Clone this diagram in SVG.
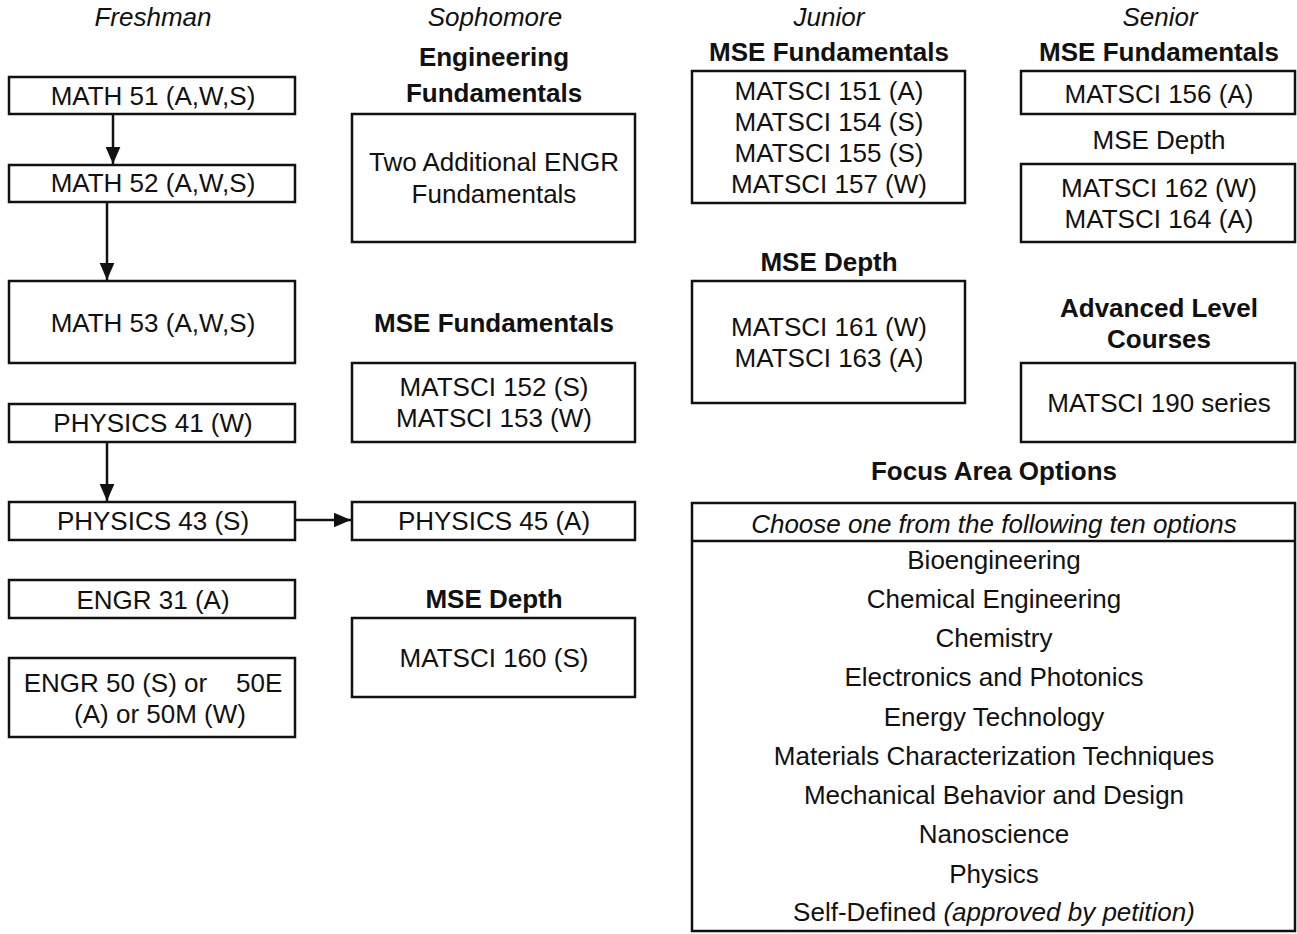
<svg xmlns="http://www.w3.org/2000/svg" width="1297" height="934" viewBox="0 0 1297 934">
<style>
text{font-family:"Liberation Sans",Arial,Helvetica,sans-serif;font-size:26px;fill:#111;text-anchor:middle}
.it{font-style:italic}
.b{font-weight:bold}
rect{fill:#fff;stroke:#111;stroke-width:2.5}
.c{stroke:#111;stroke-width:2.5;fill:none}
</style>
<defs>
<marker id="ah" viewBox="0 0 15 13" refX="15" refY="6.5" markerWidth="7" markerHeight="6.07" markerUnits="strokeWidth" orient="auto">
<path d="M0,0 L15,6.5 L0,13 Z" fill="#111"/>
</marker>
</defs>
<rect x="0" y="0" width="1297" height="934" style="fill:#fff;stroke:none"/>
<g id="headers">
<text class="it" x="153" y="26">Freshman</text>
<text class="it" x="495" y="26">Sophomore</text>
<text class="it" x="829" y="26">Junior</text>
<text class="it" x="1160" y="26">Senior</text>
<text class="b" x="494" y="66">Engineering</text>
<text class="b" x="494" y="102">Fundamentals</text>
<text class="b" x="494" y="332">MSE Fundamentals</text>
<text class="b" x="494" y="608">MSE Depth</text>
<text class="b" x="829" y="61">MSE Fundamentals</text>
<text class="b" x="829" y="271">MSE Depth</text>
<text class="b" x="1159" y="61">MSE Fundamentals</text>
<text x="1159" y="149">MSE Depth</text>
<text class="b" x="1159" y="317">Advanced Level</text>
<text class="b" x="1159" y="348">Courses</text>
<text class="b" x="994" y="480">Focus Area Options</text>
</g>
<g id="math51"><rect x="9" y="77" width="286" height="37"/><text x="153" y="105">MATH 51 (A,W,S)</text></g>
<g id="math52"><rect x="9" y="165" width="286" height="37"/><text x="153" y="192">MATH 52 (A,W,S)</text></g>
<g id="math53"><rect x="9" y="281" width="286" height="82"/><text x="153" y="332">MATH 53 (A,W,S)</text></g>
<g id="physics41"><rect x="9" y="404" width="286" height="38"/><text x="153" y="432">PHYSICS 41 (W)</text></g>
<g id="physics43"><rect x="9" y="502" width="286" height="38"/><text x="153" y="530">PHYSICS 43 (S)</text></g>
<g id="engr31"><rect x="9" y="580" width="286" height="38"/><text x="153" y="609">ENGR 31 (A)</text></g>
<g id="engr50"><rect x="9" y="658" width="286" height="79"/><text x="153" y="692" xml:space="preserve">ENGR 50 (S) or    50E</text><text x="160" y="723">(A) or 50M (W)</text></g>
<g id="engrfund"><rect x="352" y="114" width="283" height="128"/><text x="494" y="171">Two Additional ENGR</text><text x="494" y="203">Fundamentals</text></g>
<g id="matsci152"><rect x="352" y="363" width="283" height="79"/><text x="494" y="396">MATSCI 152 (S)</text><text x="494" y="427">MATSCI 153 (W)</text></g>
<g id="physics45"><rect x="352" y="502" width="283" height="38"/><text x="494" y="530">PHYSICS 45 (A)</text></g>
<g id="matsci160"><rect x="352" y="618" width="283" height="79"/><text x="494" y="667">MATSCI 160 (S)</text></g>
<g id="juniorfund"><rect x="692" y="71" width="273" height="132"/><text x="829" y="100">MATSCI 151 (A)</text><text x="829" y="131">MATSCI 154 (S)</text><text x="829" y="162">MATSCI 155 (S)</text><text x="829" y="193">MATSCI 157 (W)</text></g>
<g id="juniordepth"><rect x="692" y="281" width="273" height="122"/><text x="829" y="336">MATSCI 161 (W)</text><text x="829" y="367">MATSCI 163 (A)</text></g>
<g id="matsci156"><rect x="1021" y="71" width="274" height="43"/><text x="1159" y="103">MATSCI 156 (A)</text></g>
<g id="seniordepth"><rect x="1021" y="164" width="274" height="78"/><text x="1159" y="197">MATSCI 162 (W)</text><text x="1159" y="228">MATSCI 164 (A)</text></g>
<g id="matsci190"><rect x="1021" y="363" width="274" height="79"/><text x="1159" y="412">MATSCI 190 series</text></g>
<g id="focus">
<rect x="692" y="503" width="603" height="428"/>
<line class="c" x1="692" y1="541" x2="1295" y2="541"/>
<text class="it" x="994" y="533">Choose one from the following ten options</text>
<text x="994" y="569">Bioengineering</text>
<text x="994" y="608">Chemical Engineering</text>
<text x="994" y="647">Chemistry</text>
<text x="994" y="686">Electronics and Photonics</text>
<text x="994" y="726">Energy Technology</text>
<text x="994" y="765">Materials Characterization Techniques</text>
<text x="994" y="804">Mechanical Behavior and Design</text>
<text x="994" y="843">Nanoscience</text>
<text x="994" y="883">Physics</text>
<text x="994" y="921">Self-Defined <tspan class="it">(approved by petition)</tspan></text>
</g>
<g id="connectors">
<line class="c" x1="113" y1="114" x2="113" y2="164" marker-end="url(#ah)"/>
<line class="c" x1="107" y1="202" x2="107" y2="280" marker-end="url(#ah)"/>
<line class="c" x1="107" y1="442" x2="107" y2="501" marker-end="url(#ah)"/>
<line class="c" x1="295" y1="520" x2="351" y2="520" marker-end="url(#ah)"/>
</g>
</svg>
